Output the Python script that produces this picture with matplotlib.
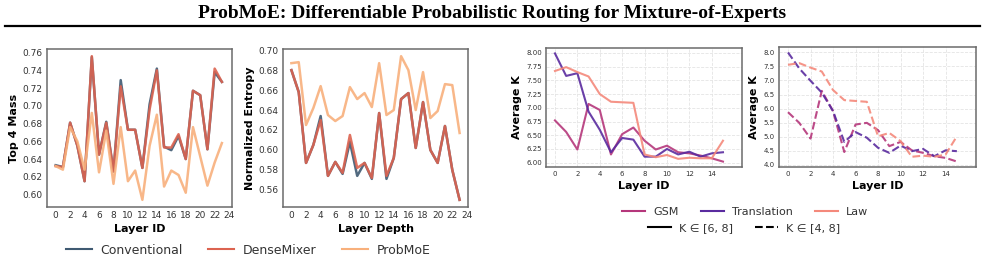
import matplotlib
matplotlib.use("Agg")
import matplotlib.pyplot as plt
from matplotlib.lines import Line2D
import numpy as np

# ---------------- data ----------------
layers24 = np.arange(24)
layers16 = np.arange(16)

top4_conventional = [0.633, 0.631, 0.681, 0.655, 0.615, 0.755, 0.645, 0.682, 0.626, 0.729,
                     0.673, 0.673, 0.630, 0.702, 0.742, 0.654, 0.650, 0.666, 0.640, 0.717,
                     0.712, 0.651, 0.738, 0.727]
top4_densemixer = [0.632, 0.631, 0.681, 0.655, 0.615, 0.756, 0.645, 0.681, 0.626, 0.722,
                   0.673, 0.673, 0.630, 0.696, 0.740, 0.653, 0.653, 0.668, 0.640, 0.717,
                   0.712, 0.651, 0.742, 0.727]
top4_probmoe = [0.632, 0.628, 0.676, 0.660, 0.628, 0.692, 0.625, 0.672, 0.612, 0.676,
                0.615, 0.627, 0.594, 0.655, 0.690, 0.609, 0.627, 0.622, 0.602, 0.676,
                0.643, 0.610, 0.636, 0.658]

ent_conventional = [0.680, 0.658, 0.587, 0.605, 0.634, 0.574, 0.588, 0.576, 0.608, 0.574,
                    0.587, 0.571, 0.637, 0.571, 0.592, 0.651, 0.657, 0.602, 0.648, 0.600,
                    0.587, 0.624, 0.580, 0.550]
ent_densemixer = [0.680, 0.658, 0.587, 0.605, 0.630, 0.574, 0.588, 0.577, 0.615, 0.582,
                  0.587, 0.572, 0.637, 0.574, 0.592, 0.651, 0.657, 0.602, 0.648, 0.600,
                  0.587, 0.624, 0.580, 0.550]
ent_probmoe = [0.687, 0.688, 0.625, 0.642, 0.664, 0.635, 0.629, 0.634, 0.663, 0.651,
               0.657, 0.643, 0.687, 0.635, 0.640, 0.694, 0.680, 0.640, 0.678, 0.632,
               0.639, 0.666, 0.665, 0.617]

k68_gsm = [6.77, 6.56, 6.24, 7.07, 6.96, 6.15, 6.52, 6.64, 6.40, 6.24, 6.31, 6.19, 6.17, 6.13, 6.08, 6.02]
k68_translation = [7.99, 7.58, 7.63, 6.93, 6.60, 6.19, 6.45, 6.42, 6.11, 6.11, 6.25, 6.15, 6.20, 6.11, 6.17, 6.19]
k68_law = [7.67, 7.74, 7.65, 7.57, 7.25, 7.11, 7.10, 7.09, 6.15, 6.10, 6.14, 6.07, 6.09, 6.08, 6.08, 6.40]

k48_gsm = [5.87, 5.49, 4.93, 6.63, 5.91, 4.45, 5.43, 5.49, 5.23, 4.66, 4.81, 4.51, 4.42, 4.30, 4.24, 4.11]
k48_translation = [8.00, 7.43, 6.99, 6.57, 5.91, 4.81, 5.16, 4.96, 4.60, 4.42, 4.68, 4.48, 4.56, 4.30, 4.51, 4.48]
k48_law = [7.56, 7.62, 7.46, 7.32, 6.66, 6.30, 6.27, 6.24, 5.01, 5.13, 4.84, 4.28, 4.32, 4.28, 4.36, 5.01]

method_names = ["Conventional", "DenseMixer", "ProbMoE"]
method_colors = ["#3f5a72", "#dc6350", "#f8b07c"]
domain_names = ["GSM", "Translation", "Law"]
domain_colors = ["#b5377b", "#5a2b9f", "#f4897b"]

# ---------------- figure ----------------
W, H = 985, 258
fig = plt.figure(figsize=(W / 100, H / 100), dpi=100)


def px_axes(x0, y0, x1, y1):
    return fig.add_axes([x0 / W, 1 - y1 / H, (x1 - x0) / W, (y1 - y0) / H])


def style_frame(ax, tick_size):
    for s in ax.spines.values():
        s.set_color("#6b6b6b")
        s.set_linewidth(1.1)
    ax.tick_params(axis="both", length=0, pad=3, labelsize=tick_size, colors="#333333")


fig.text(0.5, 1 - 14 / H, "ProbMoE: Differentiable Probabilistic Routing for Mixture-of-Experts",
         ha="center", va="center", fontsize=14, fontweight="bold", family="Liberation Serif")
fig.add_artist(Line2D([5 / W, 980 / W], [1 - 25.5 / H, 1 - 25.5 / H], color="black", lw=1.6))

# panel 1
ax1 = px_axes(47, 49, 232, 207)
for vals, c in zip([top4_conventional, top4_densemixer, top4_probmoe], method_colors):
    ax1.plot(layers24, vals, color=c, lw=1.8, alpha=0.9)
ax1.set_xlim(-1.2, 24.4)
ax1.set_xticks(range(0, 25, 2))
ax1.set_yticks(np.arange(0.60, 0.761, 0.02))
ax1.set_xlabel("Layer ID", fontsize=8, fontweight="bold", labelpad=3)
ax1.set_ylabel("Top 4 Mass", fontsize=8, fontweight="bold", labelpad=3)
style_frame(ax1, 6.5)

# panel 2
ax2 = px_axes(283, 49, 468, 207)
for vals, c in zip([ent_conventional, ent_densemixer, ent_probmoe], method_colors):
    ax2.plot(layers24, vals, color=c, lw=1.8, alpha=0.9)
ax2.set_xlim(-1.15, 24.15)
ax2.set_xticks(range(0, 25, 2))
ax2.set_yticks(np.arange(0.56, 0.701, 0.02))
ax2.set_xlabel("Layer Depth", fontsize=8, fontweight="bold", labelpad=3)
ax2.set_ylabel("Normalized Entropy", fontsize=8, fontweight="bold", labelpad=3)
style_frame(ax2, 6.5)

handles1 = [Line2D([], [], color=c, lw=1.5) for c in method_colors]
fig.legend(handles1, method_names, loc="center", bbox_to_anchor=(248 / W, 1 - 250 / H),
           ncol=3, frameon=False, fontsize=9, handlelength=2.1, handletextpad=0.7,
           columnspacing=2.0, borderaxespad=0, borderpad=0, labelcolor="#333333")

# panel 3
ax3 = px_axes(546, 48, 742, 167)
for vals, c in zip([k68_gsm, k68_translation, k68_law], domain_colors):
    ax3.plot(layers16, vals, color=c, lw=1.5, alpha=0.9)
ax3.set_xlim(-0.8, 16.7)
ax3.set_xticks(range(0, 15, 2))
ax3.set_yticks(np.arange(6.0, 8.01, 0.25))
ax3.yaxis.set_major_formatter(matplotlib.ticker.FormatStrFormatter("%.2f"))
ax3.grid(True, color="#e4e4e4", lw=0.6, ls="--")
ax3.set_xlabel("Layer ID", fontsize=8, fontweight="bold", labelpad=3)
ax3.set_ylabel("Average K", fontsize=8, fontweight="bold", labelpad=3)
style_frame(ax3, 5)

# panel 4
ax4 = px_axes(779, 47, 976, 167)
for vals, c in zip([k48_gsm, k48_translation, k48_law], domain_colors):
    ax4.plot(layers16, vals, color=c, lw=1.5, alpha=0.9, ls="--")
ax4.set_xlim(-0.8, 16.7)
ax4.set_xticks(range(0, 15, 2))
ax4.set_yticks(np.arange(4.0, 8.01, 0.5))
ax4.grid(True, color="#e4e4e4", lw=0.6, ls="--")
ax4.set_xlabel("Layer ID", fontsize=8, fontweight="bold", labelpad=3)
ax4.set_ylabel("Average K", fontsize=8, fontweight="bold", labelpad=3)
style_frame(ax4, 5)

handles2 = [Line2D([], [], color=c, lw=1.5) for c in domain_colors]
fig.legend(handles2, domain_names, loc="center", bbox_to_anchor=(745 / W, 1 - 212 / H),
           ncol=3, frameon=False, fontsize=8, handlelength=2.1, handletextpad=0.7,
           columnspacing=2.0, borderaxespad=0, borderpad=0, labelcolor="#333333")
handles3 = [Line2D([], [], color="black", lw=1.5, ls="-"),
            Line2D([], [], color="black", lw=1.5, ls="--")]
fig.legend(handles3, ["K ∈ [6, 8]", "K ∈ [4, 8]"], loc="center",
           bbox_to_anchor=(744 / W, 1 - 228 / H), ncol=2, frameon=False, fontsize=8,
           handlelength=2.1, handletextpad=0.7, columnspacing=2.0,
           borderaxespad=0, borderpad=0, labelcolor="#333333")

fig.savefig("out.png", dpi=100)
